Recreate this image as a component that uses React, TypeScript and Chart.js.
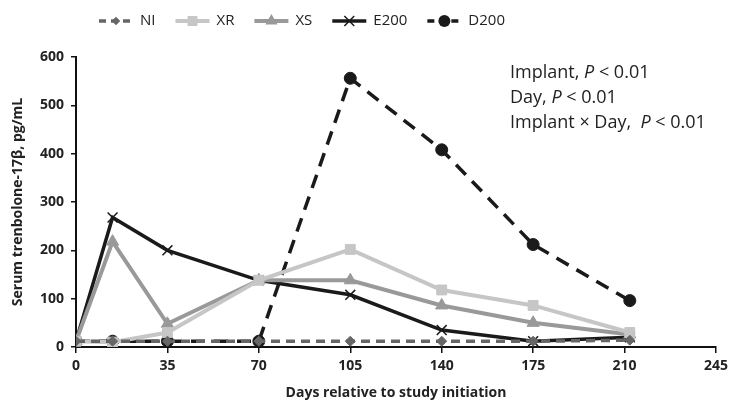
import React, { useEffect, useRef } from "react";
import { Chart, registerables } from "chart.js";

Chart.register(...registerables);

const days = [0, 14, 35, 70, 105, 140, 175, 212];
const NI = [12, 12, 12, 12, 12, 12, 12, 14];
const XR = [12, 10, 30, 138, 202, 118, 86, 30];
const XS = [12, 218, 48, 138, 138, 86, 50, 26];
const E200 = [12, 268, 200, 138, 108, 35, 12, 20];
const D200 = [12, 12, 12, 12, 556, 408, 212, 96];
const xTicks = [0, 35, 70, 105, 140, 175, 210, 245];
const yTicks = [0, 100, 200, 300, 400, 500, 600];
const statLines = [
  ["Implant, ", "P", " < 0.01"],
  ["Day, ", "P", " < 0.01"],
  ["Implant × Day,  ", "P", " < 0.01"],
];

const FONT = "'Open Sans', 'Noto Sans', sans-serif";

const toXY = (vals: number[]) => vals.map((v, i) => ({ x: days[i], y: v }));

function drawMarker(ctx: CanvasRenderingContext2D, style: string, x: number, y: number, r: number, color: string, bw: number) {
  ctx.fillStyle = color;
  ctx.strokeStyle = color;
  ctx.lineWidth = bw;
  ctx.beginPath();
  if (style === "circle") {
    ctx.arc(x, y, r, 0, Math.PI * 2);
    ctx.fill();
  } else if (style === "rect") {
    const s = r * Math.SQRT1_2;
    ctx.rect(x - s, y - s, 2 * s, 2 * s);
    ctx.fill();
  } else if (style === "rectRot") {
    const s = r * Math.SQRT1_2 * 1.2;
    ctx.moveTo(x, y - s);
    ctx.lineTo(x + s, y);
    ctx.lineTo(x, y + s);
    ctx.lineTo(x - s, y);
    ctx.closePath();
    ctx.fill();
  } else if (style === "triangle") {
    ctx.moveTo(x, y - r);
    ctx.lineTo(x + r * 0.87, y + r * 0.5);
    ctx.lineTo(x - r * 0.87, y + r * 0.5);
    ctx.closePath();
    ctx.fill();
  } else if (style === "crossRot") {
    const s = r * Math.SQRT1_2;
    ctx.moveTo(x - s, y - s);
    ctx.lineTo(x + s, y + s);
    ctx.moveTo(x + s, y - s);
    ctx.lineTo(x - s, y + s);
    ctx.stroke();
  }
}

const legendPlugin = {
  id: "customLegend",
  afterDraw(chart: any) {
    const ctx = chart.ctx;
    ctx.save();
    let x = 99;
    const y = 21;
    ctx.textBaseline = "middle";
    chart.data.datasets.forEach((ds: any) => {
      const w = 34;
      ctx.strokeStyle = ds.borderColor;
      ctx.lineWidth = ds.borderWidth;
      ctx.setLineDash(ds.borderDash ? [7, 5] : []);
      ctx.beginPath();
      ctx.moveTo(x, y);
      ctx.lineTo(x + w, y);
      ctx.stroke();
      ctx.setLineDash([]);
      drawMarker(ctx, ds.pointStyle, x + w / 2, y, ds.pointRadius, ds.borderColor, ds.pointBorderWidth);
      ctx.font = `15px ${FONT}`;
      ctx.fillStyle = "#222";
      ctx.fillText(ds.label, x + w + 7, y);
      const tw = ctx.measureText(ds.label).width;
      x += w + 7 + tw + 20;
    });
    ctx.restore();
  },
};

const statsPlugin = {
  id: "stats",
  afterDraw(chart: any) {
    const ctx = chart.ctx;
    ctx.save();
    ctx.fillStyle = "#222";
    ctx.textBaseline = "middle";
    statLines.forEach((parts, i) => {
      let x = 510;
      const y = 73 + i * 25;
      parts.forEach((p, j) => {
        ctx.font = `${j === 1 ? "italic " : ""}18px ${FONT}`;
        ctx.fillText(p, x, y);
        x += ctx.measureText(p).width;
      });
    });
    ctx.restore();
  },
};

export default function App() {
  const ref = useRef<HTMLCanvasElement>(null);
  useEffect(() => {
    document.body.style.margin = "0";
    const chart = new Chart(ref.current!, {
      type: "line",
      data: {
        datasets: [
          {
            label: "NI",
            data: toXY(NI),
            borderColor: "#666666",
            backgroundColor: "#666666",
            borderWidth: 3.5,
            borderDash: [9, 6],
            pointStyle: "rectRot",
            pointRadius: 5,
            pointBorderWidth: 1,
          },
          {
            label: "XR",
            data: toXY(XR),
            borderColor: "#c6c6c6",
            backgroundColor: "#c6c6c6",
            borderWidth: 4,
            pointStyle: "rect",
            pointRadius: 7,
            pointBorderWidth: 1,
          },
          {
            label: "XS",
            data: toXY(XS),
            borderColor: "#999999",
            backgroundColor: "#999999",
            borderWidth: 4,
            pointStyle: "triangle",
            pointRadius: 7,
            pointBorderWidth: 1,
          },
          {
            label: "E200",
            data: toXY(E200),
            borderColor: "#1a1a1a",
            backgroundColor: "#1a1a1a",
            borderWidth: 3.5,
            pointStyle: "crossRot",
            pointRadius: 7,
            pointBorderWidth: 1.5,
          },
          {
            label: "D200",
            data: toXY(D200),
            borderColor: "#1a1a1a",
            backgroundColor: "#1a1a1a",
            borderWidth: 3.5,
            borderDash: [14, 9],
            pointStyle: "circle",
            pointRadius: 6,
            pointBorderWidth: 1,
          },
        ],
      },
      options: {
        animation: false,
        responsive: false,
        layout: { padding: { top: 57, right: 12, left: 0, bottom: 0 } },
        plugins: { legend: { display: false }, tooltip: { enabled: false } },
        scales: {
          x: {
            type: "linear",
            min: 0,
            max: 245,
            afterFit: (s: any) => { s.height = 56; },
            afterBuildTicks: (s: any) => { s.ticks = xTicks.map((v) => ({ value: v })); },
            grid: { display: true, drawOnChartArea: false, drawTicks: true, tickLength: 6, color: "#111", lineWidth: 1.5 },
            border: { color: "#111", width: 2 },
            ticks: { color: "#222", font: { family: FONT, size: 14, weight: "bold" }, padding: 5, maxRotation: 0 },
            title: { display: true, text: "Days relative to study initiation", color: "#222", font: { family: FONT, size: 14, weight: "bold" }, padding: { top: 4, bottom: 2 } },
          },
          y: {
            min: 0,
            max: 600,
            afterFit: (s: any) => { s.width = 76; },
            afterBuildTicks: (s: any) => { s.ticks = yTicks.map((v) => ({ value: v })); },
            grid: { display: true, drawOnChartArea: false, drawTicks: true, tickLength: 5, color: "#111", lineWidth: 1.5 },
            border: { color: "#111", width: 2 },
            ticks: { color: "#222", font: { family: FONT, size: 14, weight: "bold" }, padding: 7 },
            title: { display: true, text: "Serum trenbolone-17β, pg/mL", color: "#222", font: { family: FONT, size: 14, weight: "bold" }, padding: { top: 10, bottom: 4 } },
          },
        },
      },
      plugins: [legendPlugin, statsPlugin],
    });
    return () => chart.destroy();
  }, []);
  return <canvas ref={ref} width={733} height={403} />;
}
